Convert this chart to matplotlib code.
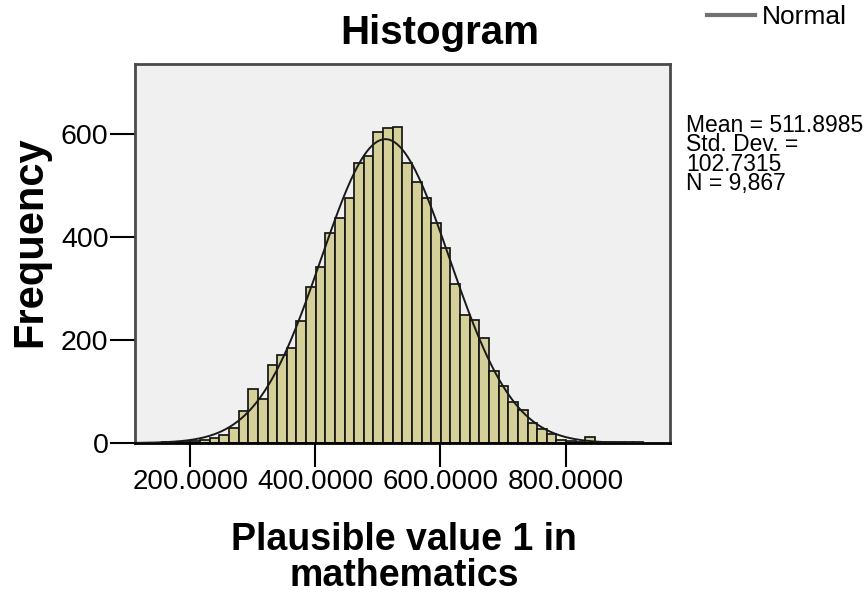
import numpy as np
import matplotlib
matplotlib.use("Agg")
import matplotlib.pyplot as plt

plt.rcParams['font.family'] = ['Liberation Sans', 'DejaVu Sans']

# histogram
bin_start = 154.0
bin_width = 15.4
counts = [1, 1, 2, 4, 5, 10, 16, 30, 62, 105,
          85, 151, 171, 184, 237, 302, 342, 407, 436, 476,
          544, 557, 603, 611, 614, 544, 507, 475, 427, 378,
          309, 249, 239, 203, 140, 111, 80, 65, 39, 28,
          17, 6, 3, 2, 11, 2, 1, 1, 1, 1]

# stats shown in the legend
mean = 511.8985
std_dev = 102.7315
n_cases = 9867

x_ticks = [200, 400, 600, 800]
x_tick_labels = ["200.0000", "400.0000", "600.0000", "800.0000"]
y_ticks = [0, 200, 400, 600]

fig = plt.figure(figsize=(8.68, 5.95), dpi=100)
ax = fig.add_axes([135 / 868, 1 - 443 / 595, 535 / 868, 379 / 595])
ax.set_facecolor('#F0F0F0')

edges = bin_start + bin_width * np.arange(len(counts) + 1)
ax.bar(edges[:-1], counts, width=bin_width, align='edge',
       color='#D5D09A', edgecolor='#151515', linewidth=1.25, zorder=2)

# normal curve from the stats
xs = np.linspace(115, 925, 400)
ys = n_cases * bin_width / (std_dev * np.sqrt(2 * np.pi)) * np.exp(-0.5 * ((xs - mean) / std_dev) ** 2)
ax.plot(xs, ys, color='#1A1A1A', linewidth=1.4, zorder=3)

ax.set_xlim(111.5, 967)
ax.set_ylim(0, 736)
ax.set_xticks(x_ticks)
ax.set_xticklabels(x_tick_labels)
ax.set_yticks(y_ticks)
ax.tick_params(axis='x', direction='out', length=17, width=1.5, pad=2, labelsize=20)
ax.tick_params(axis='y', direction='out', length=18, width=1.5, pad=1, labelsize=20.5)
for side in ['top', 'right', 'left']:
    ax.spines[side].set_color('#4A4A4A')
    ax.spines[side].set_linewidth(2)
ax.spines['bottom'].set_color('black')
ax.spines['bottom'].set_linewidth(2)

fig.text(440 / 868, 1 - 33 / 595, "Histogram", ha='center', va='center',
         fontsize=29, fontweight='bold')
fig.text(30 / 868, 1 - 242 / 595, "Frequency", ha='center', va='center',
         rotation=90, fontsize=30, fontweight='bold')
fig.text(404 / 868, 1 - 540 / 595, "Plausible value 1 in", ha='center', va='center',
         fontsize=27, fontweight='bold')
fig.text(404 / 868, 1 - 576 / 595, "mathematics", ha='center', va='center',
         fontsize=27, fontweight='bold')

# legend
fig.add_artist(plt.Line2D([707 / 868, 755 / 868], [1 - 15 / 595, 1 - 15 / 595],
                          color='#707070', linewidth=3))
fig.text(762 / 868, 1 - 17 / 595, "Normal", ha='left', va='center', fontsize=19)
stats_txt = "Mean = %.4f\nStd. Dev. =\n%.4f\nN = %s" % (mean, std_dev, format(n_cases, ','))
fig.text(686 / 868, 1 - 114 / 595, stats_txt, ha='left', va='top',
         fontsize=16.5, linespacing=0.8)

fig.savefig("out.png", dpi=100)
